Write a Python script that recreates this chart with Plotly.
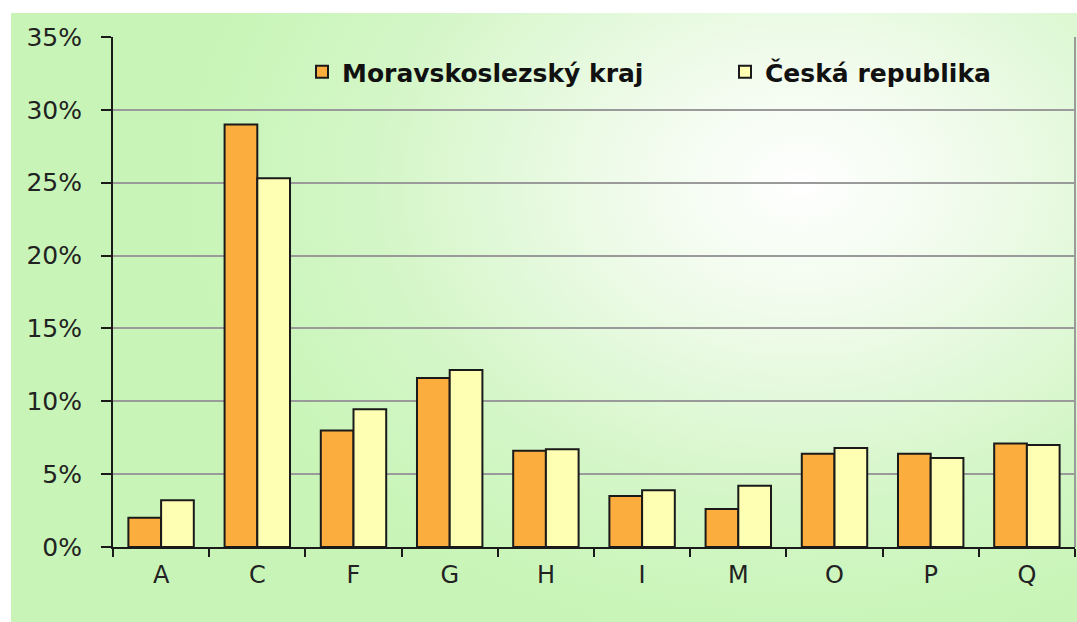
import base64
import plotly.graph_objects as go

categories = ["A", "C", "F", "G", "H", "I", "M", "O", "P", "Q"]
msk = [2.0, 29.0, 8.0, 11.6, 6.6, 3.5, 2.6, 6.4, 6.4, 7.1]
cr = [3.2, 25.3, 9.45, 12.15, 6.7, 3.9, 4.2, 6.8, 6.1, 7.0]
series_names = ["Moravskoslezský kraj", "Česká republika"]
y_ticks = [0, 5, 10, 15, 20, 25, 30, 35]

W, H = 1077, 622
ml, mr, mt, mb = 113, 2, 37, 75
pw, ph = W - ml - mr, H - mt - mb

svg = """<svg xmlns='http://www.w3.org/2000/svg' width='1066' height='609' viewBox='0 0 1066 609' preserveAspectRatio='none'>
<defs><radialGradient id='g' gradientUnits='userSpaceOnUse' cx='790' cy='170' r='620' gradientTransform='translate(790 170) scale(1 0.75) translate(-790 -170)'>
<stop offset='0' stop-color='#ffffff'/>
<stop offset='0.3' stop-color='#effbea'/>
<stop offset='0.7' stop-color='#d3f6c6'/>
<stop offset='1' stop-color='#c8f5b7'/>
</radialGradient></defs>
<rect width='1066' height='609' fill='url(#g)'/></svg>"""
uri = "data:image/svg+xml;base64," + base64.b64encode(svg.encode()).decode()

fig = go.Figure()
fig.add_trace(go.Bar(x=categories, y=msk, name=series_names[0], legend="legend",
                     marker=dict(color="#FBAD3D", line=dict(color="#1a1a1a", width=2))))
fig.add_trace(go.Bar(x=categories, y=cr, name=series_names[1], legend="legend2",
                     marker=dict(color="#FFFFB4", line=dict(color="#1a1a1a", width=2))))

fig.add_layout_image(dict(source=uri, xref="paper", yref="paper",
                          x=(11 - ml) / pw, y=1 + (mt - 13) / ph,
                          sizex=(W - 11) / pw, sizey=(H - 13) / ph,
                          xanchor="left", yanchor="top", sizing="stretch", layer="below"))
fig.add_shape(type="line", xref="paper", yref="paper", x0=1, x1=1, y0=0, y1=1,
              line=dict(color="#9a9a9a", width=2))

legfont = dict(size=25, family="DejaVu Sans", weight="bold", color="#111")
fig.update_layout(
    width=W, height=H,
    margin=dict(l=ml, r=mr, t=mt, b=mb, pad=0),
    paper_bgcolor="white", plot_bgcolor="rgba(0,0,0,0)",
    barmode="group", bargap=0.32, bargroupgap=0,
    font=dict(family="DejaVu Sans", color="#222"),
    showlegend=True,
    legend=dict(x=(302 - ml) / pw, y=(547 - 72) / ph, xanchor="left", yanchor="middle",
                bgcolor="rgba(0,0,0,0)", font=legfont),
    legend2=dict(x=(725 - ml) / pw, y=(547 - 72) / ph, xanchor="left", yanchor="middle",
                 bgcolor="rgba(0,0,0,0)", font=legfont),
    xaxis=dict(showline=True, linecolor="#1a1a1a", linewidth=2, ticks="outside",
               tickson="boundaries", ticklen=8, tickwidth=2, tickcolor="#1a1a1a",
               tickfont=dict(size=24), ticklabelstandoff=5, showgrid=False,
               range=[-0.5, 9.5]),
    yaxis=dict(range=[0, 35], tickvals=y_ticks, ticktext=[f"{v}%" for v in y_ticks],
               showline=True, linecolor="#1a1a1a", linewidth=2, ticks="outside",
               ticklen=10, tickwidth=2, tickcolor="#1a1a1a", tickfont=dict(size=25),
               ticklabelstandoff=14,
               showgrid=True, gridcolor="#9a9a9a", gridwidth=2, zeroline=False),
)
fig.write_html("out.html", config={"displayModeBar": False},
               post_script="document.body.style.margin='0px';document.body.style.overflow='hidden';")
